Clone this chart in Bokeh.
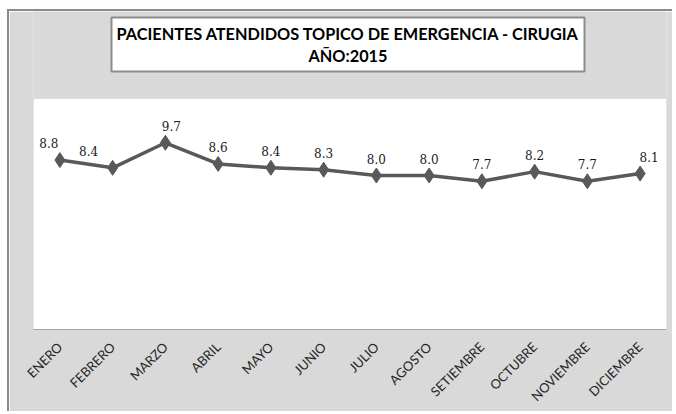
import math
from bokeh.plotting import figure
from bokeh.models import (ColumnDataSource, LabelSet, Label, Range1d, FactorRange,
                          BoxAnnotation)
from bokeh.core.properties import value
from bokeh.embed import file_html
from bokeh.resources import INLINE

months = ["ENERO", "FEBRERO", "MARZO", "ABRIL", "MAYO", "JUNIO", "JULIO",
          "AGOSTO", "SETIEMBRE", "OCTUBRE", "NOVIEMBRE", "DICIEMBRE"]
values = [8.8, 8.4, 9.7, 8.6, 8.4, 8.3, 8.0, 8.0, 7.7, 8.2, 7.7, 8.1]
label_dx = [-11, -24, 6, 0, 0, 0, 0, 0, 0, 0, 0, 9]
title_text = "PACIENTES ATENDIDOS TOPICO DE EMERGENCIA - CIRUGIA\nAÑO:2015"
y_max = 12  # top of the white plotting area

src = ColumnDataSource(dict(m=months, v=values,
                            t=[f"{x:.1f}" for x in values], dx=label_dx))

BG = "#d9d9d9"
LINE = "#595959"

W, H = 665, 402
BORDER_L, BORDER_R, BORDER_B = 24, 8, 84
PLOT_H = 231          # pixel height of white plotting area
frame_h = H - BORDER_B
y_top = y_max * frame_h / PLOT_H   # frame extends above the white area for the title

p = figure(x_range=FactorRange(*months), y_range=Range1d(0, y_top),
           width=W, height=H, output_backend="svg", toolbar_location=None,
           min_border_left=BORDER_L, min_border_right=BORDER_R, min_border_top=0,
           min_border_bottom=BORDER_B)
p.styles = {"border-top": "2px solid #8c8c8c", "border-left": "2px solid #8c8c8c",
            "margin-left": "7px", "margin-top": "9px"}
p.background_fill_color = BG
p.border_fill_color = BG
p.outline_line_color = None
p.xgrid.visible = False
p.ygrid.visible = False
p.yaxis.visible = False

plot_area = BoxAnnotation(bottom=0, top=y_max, fill_color="white", fill_alpha=1,
                          line_color="#bfbfbf", line_width=1, level="underlay")
p.add_layout(plot_area)

ax = p.xaxis[0]
ax.axis_line_color = "#a6a6a6"
ax.major_tick_line_color = None
ax.minor_tick_line_color = None
ax.major_label_orientation = math.pi / 4
ax.major_label_standoff = 9
ax.major_label_text_font = "Lato"
ax.major_label_text_font_size = "13px"
ax.major_label_text_color = "#262626"

p.line("m", "v", source=src, line_color=LINE, line_width=3.5)
p.scatter("m", "v", source=src, marker="diamond", size=15,
          fill_color=LINE, line_color=LINE)

labels = LabelSet(x="m", y="v", text="t", source=src, x_offset="dx", y_offset=12,
                  text_align="center", text_baseline="bottom",
                  text_font=value("DejaVu Serif"), text_font_size="12px",
                  text_color="#1a1a1a")
p.add_layout(labels)

title = Label(x=len(months) / 2, y=y_max + 54 / (PLOT_H / y_max), x_offset=-2,
              text=title_text, text_align="center", text_baseline="middle",
              text_font="Lato", text_font_style="bold", text_font_size="16.3px",
              text_color="black", background_fill_color="white",
              border_line_color="#8c8c8c", border_line_width=2, padding=(5, 6))
p.add_layout(title)

open("out.html", "w").write(file_html(p, INLINE))
